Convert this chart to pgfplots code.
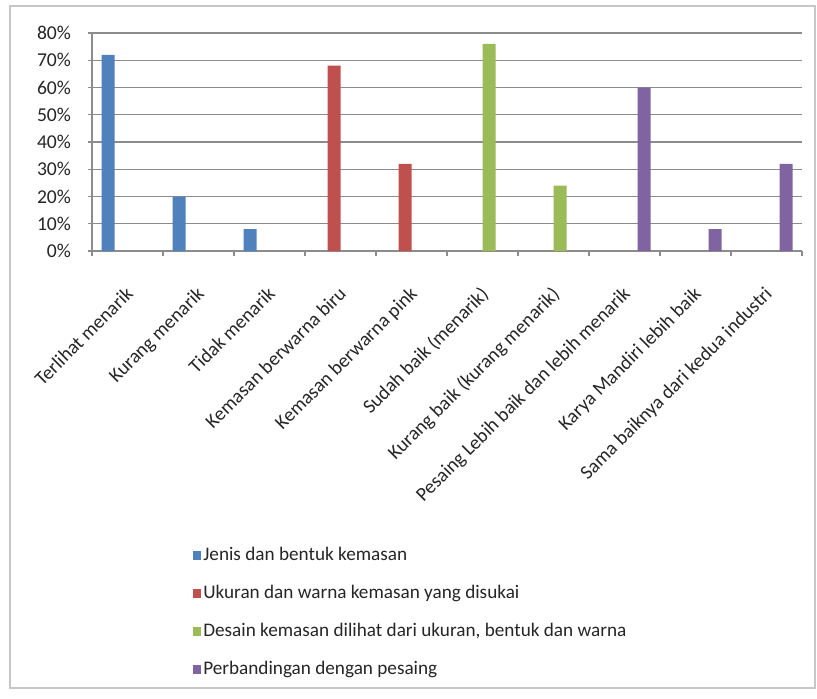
\documentclass[border=0pt]{standalone}
\usepackage{pgfplots}
\pgfplotsset{compat=1.18}
\usepackage{fontspec}
\setmainfont{Carlito}
\definecolor{sblue}{HTML}{4F81BD}
\definecolor{sred}{HTML}{C0504D}
\definecolor{sgreen}{HTML}{9BBB59}
\definecolor{spurple}{HTML}{8064A2}
\definecolor{gridgray}{HTML}{8C8C8C}
\definecolor{txt}{HTML}{262626}
\pgfplotsset{legsq/.style={legend image code/.code={\fill[##1] (0pt,-2.2pt) rectangle (4.4pt,2.2pt);}}}
\begin{document}
\begin{tikzpicture}[x=1pt,y=1pt]
\useasboundingbox (0,0) rectangle (408.5,349);
\fill[white] (0,0) rectangle (408.5,349);
\draw[gray!45, line width=0.8pt] (5,346) rectangle (407.5,5);
\begin{axis}[
  at={(46pt,223.5pt)}, anchor=south west,
  scale only axis, width=355pt, height=109pt,
  xmin=-0.5, xmax=9.5, ymin=0, ymax=80,
  axis x line*=bottom, axis y line*=left,
  axis line style={draw=gridgray, line width=0.6pt},
  /pgf/number format/assume math mode=true,
  ytick={0,10,...,80},
  yticklabel={\pgfmathprintnumber{\tick}\%},
  ymajorgrids, grid style={gridgray, line width=0.6pt},
  xtick={0,...,9},
  xticklabels={Terlihat menarik, Kurang menarik, Tidak menarik, Kemasan berwarna biru, Kemasan berwarna pink, Sudah baik (menarik), Kurang baik (kurang menarik), Pesaing Lebih baik dan lebih menarik, Karya Mandiri lebih baik, Sama baiknya dari kedua industri},
  minor xtick={-0.5,0.5,...,9.5},
  major x tick style={draw=none},
  minor x tick style={draw=gridgray, line width=0.6pt},
  y tick style={draw=gridgray, line width=0.6pt},
  tick align=outside,
  major tick length=2pt, minor tick length=2.5pt,
  ticklabel style={font=\fontsize{9.8}{11}\selectfont, text=txt},
  xticklabel shift=15pt,
  xticklabel style={xshift=-1.5pt, rotate=45, anchor=north east, inner sep=0pt},
  yticklabel style={xshift=-5pt},
  legend style={at={(0.141,-1.349)}, anchor=north west, draw=none, fill=none,
    font=\fontsize{9.6}{11}\selectfont, text=txt, row sep=8.8pt, inner sep=0pt,
    nodes={inner sep=1pt}},
  legend cell align=left,
]
\addplot[ybar, bar width=6.5pt, bar shift=-9.75pt, fill=sblue, draw=none, legsq] coordinates {(0,72) (1,20) (2,8)};
\addlegendentry{Jenis dan bentuk kemasan}
\addplot[ybar, bar width=6.5pt, bar shift=-3.25pt, fill=sred, draw=none, legsq] coordinates {(3,68) (4,32)};
\addlegendentry{Ukuran dan warna kemasan yang disukai}
\addplot[ybar, bar width=6.5pt, bar shift=3.25pt, fill=sgreen, draw=none, legsq] coordinates {(5,76) (6,24)};
\addlegendentry{Desain kemasan dilihat dari ukuran, bentuk dan warna}
\addplot[ybar, bar width=6.5pt, bar shift=9.75pt, fill=spurple, draw=none, legsq] coordinates {(7,60) (8,8) (9,32)};
\addlegendentry{Perbandingan dengan pesaing}
\end{axis}
\end{tikzpicture}
\end{document}
